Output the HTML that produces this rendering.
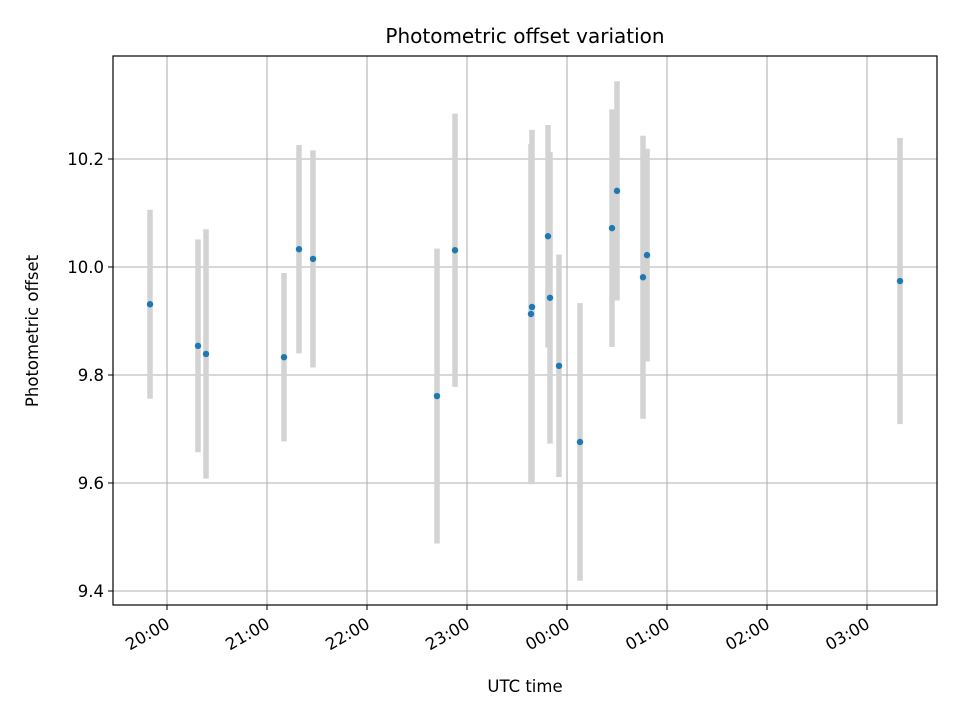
<!DOCTYPE html>
<html><head><meta charset="utf-8"><style>
body{margin:0;background:#fff}
svg text{font-family:"DejaVu Sans","Liberation Sans",sans-serif;fill:#000}
</style></head><body>
<svg width="960" height="720" viewBox="0 0 960 720">
<rect width="960" height="720" fill="#fff"/>
<g id="grid"></g><g id="bars"></g><g id="pts"></g><g id="axes"></g>
<rect x="113" y="56" width="824" height="549" fill="none" stroke="#000" stroke-width="1.2"/>
<text x="525" y="43" font-size="20" text-anchor="middle">Photometric offset variation</text>
<text x="525" y="692" font-size="16.5" text-anchor="middle">UTC time</text>
<text transform="translate(38,331) rotate(-90)" font-size="16.5" text-anchor="middle">Photometric offset</text>
</svg>
<script>
// hours relative to 20:00
const times=[-0.17,0.31,0.39,1.17,1.32,1.46,2.70,2.88,3.64,3.65,3.81,3.83,3.92,4.13,4.45,4.50,4.76,4.80,7.33];
const values=[9.931,9.854,9.839,9.833,10.033,10.015,9.761,10.031,9.913,9.926,10.057,9.943,9.817,9.676,10.072,10.141,9.981,10.022,9.974];
const errors=[0.175,0.197,0.231,0.156,0.193,0.201,0.273,0.253,0.315,0.328,0.206,0.27,0.206,0.257,0.22,0.203,0.262,0.197,0.265];
const xTicks=[0,1,2,3,4,5,6,7];
const xTickLabels=["20:00","21:00","22:00","23:00","00:00","01:00","02:00","03:00"];
const yTicks=[9.4,9.6,9.8,10.0,10.2];
const yTickLabels=["9.4","9.6","9.8","10.0","10.2"];
const NS="http://www.w3.org/2000/svg";
const X=h=>167+h*100, Y=v=>267-(v-10)*540;
function mk(t,a,p){const e=document.createElementNS(NS,t);for(const k in a)e.setAttribute(k,a[k]);p.appendChild(e);return e;}
const grid=document.getElementById('grid'),axes=document.getElementById('axes'),bars=document.getElementById('bars'),pts=document.getElementById('pts');
xTicks.forEach((t,i)=>{const x=X(t);
 let g=mk('line',{x1:x,x2:x,y1:56,y2:605,stroke:'#b0b0b0','stroke-width':1.1},grid);
 
 mk('line',{x1:x,x2:x,y1:605,y2:610,stroke:'#000'},axes);
 const ax=x+4, ay=627;
 let tx=mk('text',{x:ax,y:ay,'font-size':16.5,'text-anchor':'end',transform:`rotate(-30 ${ax} ${ay})`},axes);
 tx.textContent=xTickLabels[i];});
yTicks.forEach((t,i)=>{const y=Y(t);
 let g=mk('line',{x1:113,x2:937,y1:y,y2:y,stroke:'#b0b0b0','stroke-width':1.1},grid);
 
 mk('line',{x1:108,x2:113,y1:y,y2:y,stroke:'#000'},axes);
 let tx=mk('text',{x:104,y:y+6,'font-size':16.5,'text-anchor':'end'},axes);
 tx.textContent=yTickLabels[i];});
times.forEach((t,i)=>{const x=X(t);
 let b=mk('line',{x1:x,x2:x,y1:Y(values[i]+errors[i]),y2:Y(values[i]-errors[i]),stroke:'#d3d3d3','stroke-width':5.5},bars);
 
 let c=mk('circle',{cx:x,cy:Y(values[i]),r:3.2,fill:'#1f77b4'},pts);
 });
</script>
</body></html>
